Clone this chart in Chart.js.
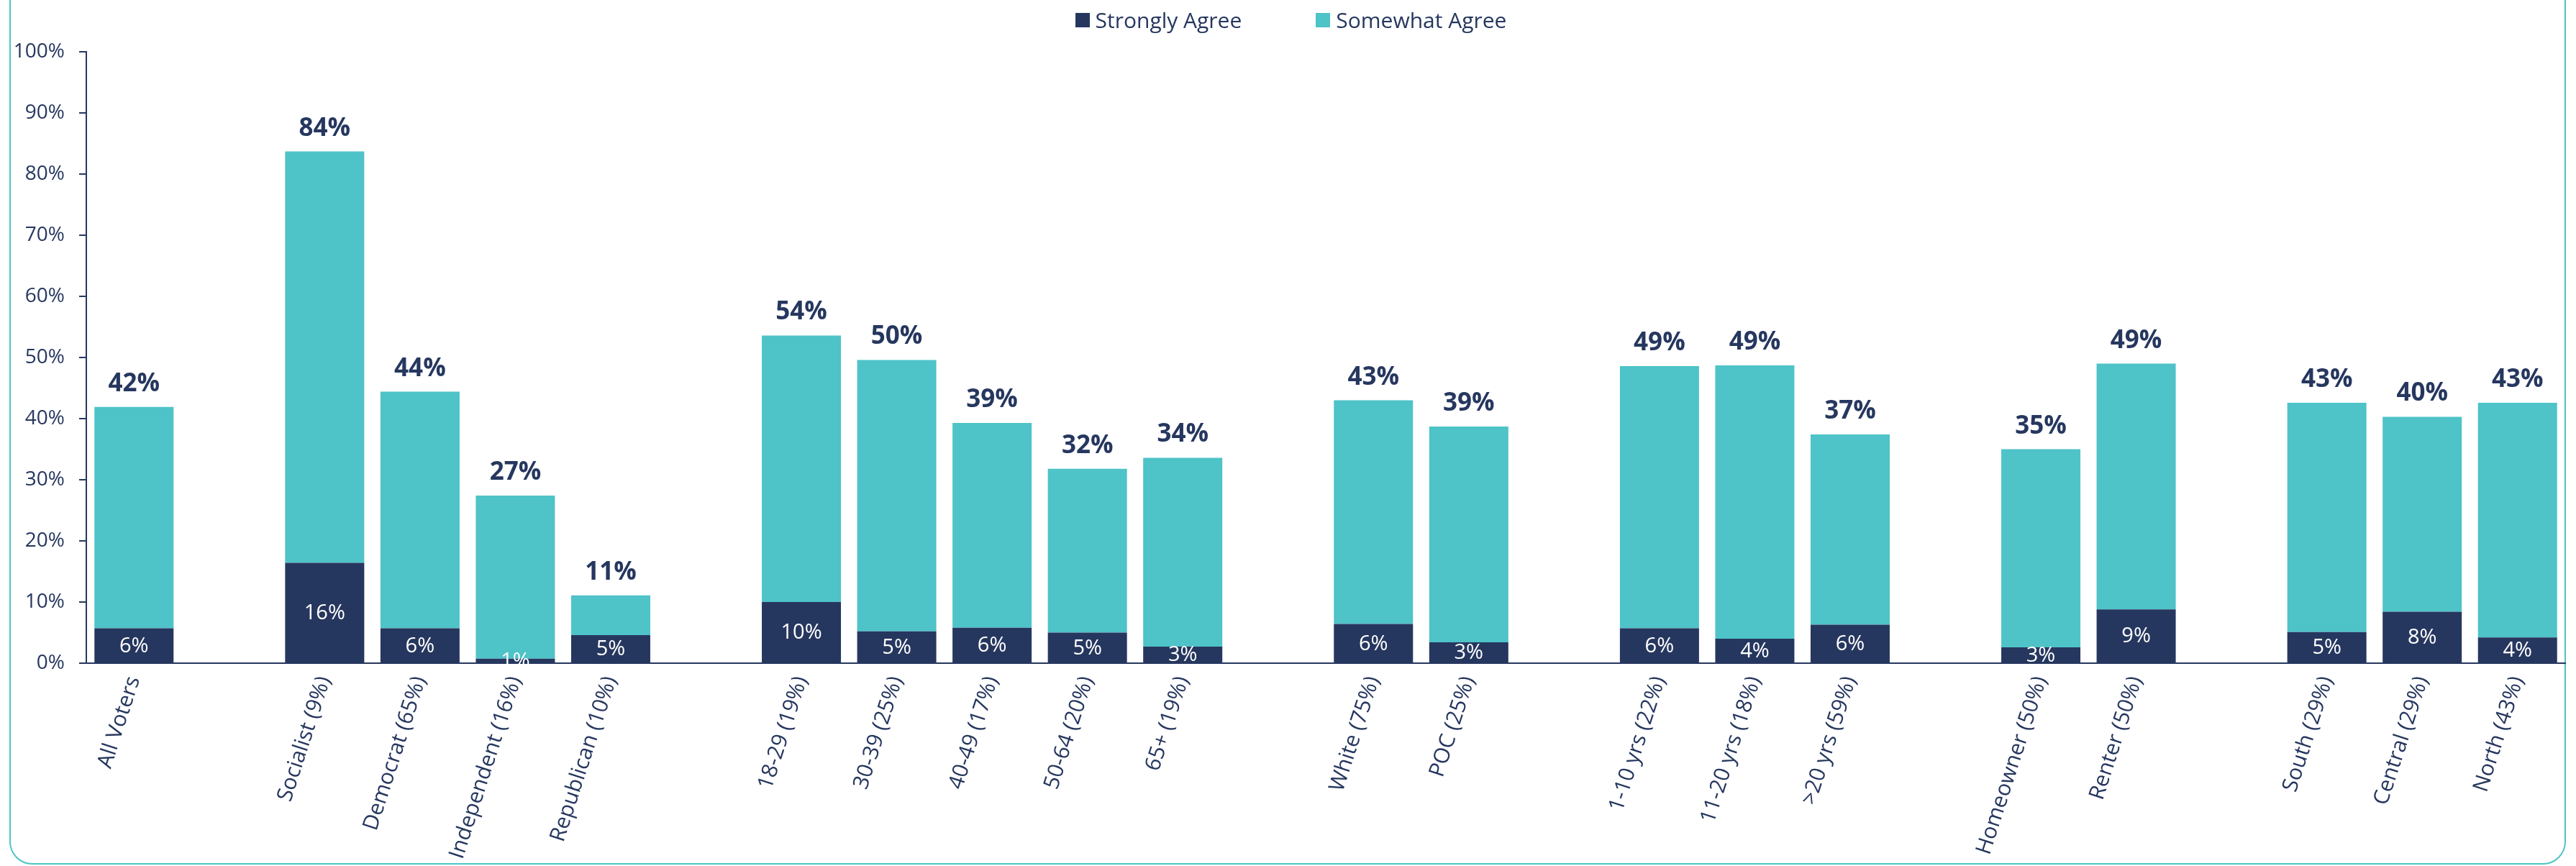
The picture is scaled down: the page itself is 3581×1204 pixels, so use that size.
<!DOCTYPE html>
<html>
<head>
<meta charset="utf-8">
<script src="https://cdn.jsdelivr.net/npm/chart.js@4.4.1/dist/chart.umd.min.js"></script>
<style>
  html, body { margin: 0; padding: 0; background: #fff; overflow: hidden; }
  #wrap { position: relative; width: 3581px; height: 1204px; overflow: hidden; }
  #frame { position: absolute; left: 13px; top: -40px; width: 3554px; height: 1242px;
           box-sizing: border-box; border: 2px solid #4EC3C8; border-radius: 32px; }
  #chart { position: absolute; left: 0; top: 0; }
  #legend { position: absolute; left: 0; top: 7px; width: 3589px; display: flex; justify-content: center;
            gap: 103px; font-family: 'Open Sans', sans-serif; font-size: 30px; color: #26375F; }
  .item { display: flex; align-items: center; }
  .box { width: 20px; height: 20px; margin-right: 8px; }
</style>
</head>
<body>
<div id="wrap">
  <div id="frame"></div>
  <canvas id="chart" width="3581" height="1204"></canvas>
  <div id="legend"></div>
</div>
<script>
// categories ('' = spacer between groups)
const categories = [
  'All Voters', '',
  'Socialist (9%)', 'Democrat (65%)', 'Independent (16%)', 'Republican (10%)', '',
  '18-29 (19%)', '30-39 (25%)', '40-49 (17%)', '50-64 (20%)', '65+ (19%)', '',
  'White (75%)', 'POC (25%)', '',
  '1-10 yrs (22%)', '11-20 yrs (18%)', '>20 yrs (59%)', '',
  'Homeowner (50%)', 'Renter (50%)', '',
  'South (29%)', 'Central (29%)', 'North (43%)'
];
const seriesNames = ['Strongly Agree', 'Somewhat Agree'];
const stronglyAgree = [
  5.7, null,
  16.4, 5.7, 0.75, 4.6, null,
  10.0, 5.2, 5.8, 5.0, 2.7, null,
  6.4, 3.4, null,
  5.7, 4.0, 6.3, null,
  2.6, 8.8, null,
  5.1, 8.4, 4.2
];
const somewhatAgree = [
  36.2, null,
  67.3, 38.7, 26.65, 6.5, null,
  43.6, 44.4, 33.5, 26.8, 30.9, null,
  36.6, 35.3, null,
  42.9, 44.7, 31.1, null,
  32.4, 40.2, null,
  37.5, 31.9, 38.4
];
const yTicks = [0, 10, 20, 30, 40, 50, 60, 70, 80, 90, 100];

const NAVY = '#26375F';
const TEAL = '#4EC3C8';
const FONT = "'Open Sans', sans-serif";

// value labels: strongly inside the dark segment, total above the bar
const valueLabels = {
  id: 'valueLabels',
  afterDatasetsDraw(chart) {
    const ctx = chart.ctx;
    const m0 = chart.getDatasetMeta(0).data;
    const m1 = chart.getDatasetMeta(1).data;
    ctx.save();
    categories.forEach((c, i) => {
      if (stronglyAgree[i] == null) return;
      const a = m0[i], b = m1[i];
      ctx.fillStyle = '#fff';
      ctx.font = `29px ${FONT}`;
      ctx.textAlign = 'center';
      ctx.textBaseline = 'middle';
      ctx.fillText(Math.round(stronglyAgree[i]) + '%', a.x, (a.y + a.base) / 2 + 1);
      ctx.fillStyle = NAVY;
      ctx.font = `bold 35px ${FONT}`;
      ctx.textBaseline = 'alphabetic';
      ctx.fillText(Math.round(stronglyAgree[i] + somewhatAgree[i]) + '%', b.x, b.y - 22);
    });
    ctx.restore();
  }
};

const chart = new Chart(document.getElementById('chart'), {
  type: 'bar',
  data: {
    labels: categories,
    datasets: [
      { label: seriesNames[0], data: stronglyAgree, backgroundColor: NAVY },
      { label: seriesNames[1], data: somewhatAgree, backgroundColor: TEAL },
    ]
  },
  options: {
    responsive: false,
    animation: false,
    layout: { padding: { left: 0, right: 15, top: 72, bottom: 0 } },
    datasets: { bar: { categoryPercentage: 1, barPercentage: 0.83 } },
    plugins: { legend: { display: false }, tooltip: { enabled: false } },
    scales: {
      x: {
        stacked: true,
        afterFit: s => { s.height = 282; },
        grid: { display: false, drawTicks: false },
        border: { display: true, color: NAVY, width: 2 },
        ticks: { autoSkip: false, minRotation: 72, maxRotation: 72, padding: 14, color: NAVY, font: { family: FONT, size: 30 } }
      },
      y: {
        stacked: true, min: 0, max: 100,
        afterFit: s => { s.width = 120; },
        afterBuildTicks: s => { s.ticks = yTicks.map(v => ({ value: v })); },
        grid: { drawOnChartArea: false, drawTicks: true, tickLength: 10, color: NAVY, lineWidth: 2 },
        border: { display: true, color: NAVY, width: 2 },
        ticks: { padding: 20, color: NAVY, font: { family: FONT, size: 28 }, callback: v => v + '%' }
      }
    }
  },
  plugins: [valueLabels]
});

// legend built from the datasets
const lg = document.getElementById('legend');
chart.data.datasets.forEach(ds => {
  const it = document.createElement('div');
  it.className = 'item';
  it.innerHTML = `<span class="box" style="background:${ds.backgroundColor}"></span><span>${ds.label}</span>`;
  lg.appendChild(it);
});
</script>
</body>
</html>
